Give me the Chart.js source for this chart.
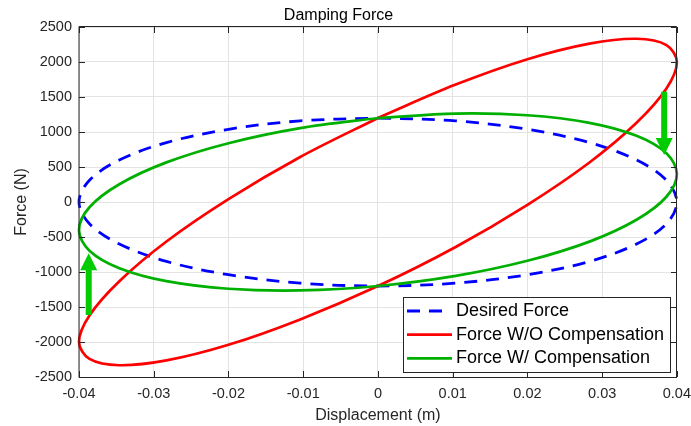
<!DOCTYPE html>
<html>
<head>
<meta charset="utf-8">
<title>Damping Force</title>
<script src="https://cdn.jsdelivr.net/npm/chart.js@4/dist/chart.umd.min.js"></script>
<style>
  html, body { margin: 0; padding: 0; background: #fff; }
</style>
</head>
<body>
<canvas id="forceChart" width="691" height="426"></canvas>
<script>
// one loop of the displacement cycle (m), shared by all three force curves
const displacement = [0, 0.0104, 0.02, 0.0283, 0.0346, 0.0386, 0.04, 0.0386, 0.0346, 0.0283, 0.02, 0.0104,
  0, -0.0104, -0.02, -0.0283, -0.0346, -0.0386, -0.04, -0.0386, -0.0346, -0.0283, -0.02, -0.0104];

// forces (N) at each displacement sample
const desiredForce = [1200, 1159, 1039, 849, 600, 311, 0, -311, -600, -849, -1039, -1159,
  -1200, -1159, -1039, -849, -600, -311, 0, 311, 600, 849, 1039, 1159];
const forceNoComp = [1201, 1677, 2040, 2263, 2332, 2242, 1999, 1620, 1131, 564, -41, -643,
  -1201, -1677, -2040, -2263, -2332, -2242, -1999, -1620, -1131, -564, 41, 643];
const forceComp = [1200, 1263, 1239, 1131, 946, 696, 399, 75, -254, -566, -840, -1056,
  -1200, -1263, -1239, -1131, -946, -696, -399, -75, 254, 566, 840, 1056];

const seriesLabels = ['Desired Force', 'Force W/O Compensation', 'Force W/ Compensation'];

// arrows showing the shift from the uncompensated to the compensated loop
const arrowX = [0.0383, -0.0387];
const arrowStart = [1576, -1614];
const arrowEnd = [671, -733];

const xTickValues = [-0.04, -0.03, -0.02, -0.01, 0, 0.01, 0.02, 0.03, 0.04];
const yTickValues = [-2500, -2000, -1500, -1000, -500, 0, 500, 1000, 1500, 2000, 2500];

const FONT = "'Liberation Sans', Arial, Helvetica, sans-serif";
const AXIS_COLOR = '#262626';

// close each loop by returning to the first sample
function loop(forces) {
  const pts = displacement.map((x, i) => ({ x, y: forces[i] }));
  pts.push({ x: displacement[0], y: forces[0] });
  return pts;
}

const overlay = {
  id: 'overlay',
  afterDatasetsDraw(chart) {
    const { ctx, chartArea: a, scales: { x, y } } = chart;
    ctx.save();

    // green arrows
    ctx.fillStyle = '#00CC00';
    arrowX.forEach((xv, i) => {
      const px = x.getPixelForValue(xv);
      const p0 = y.getPixelForValue(arrowStart[i]);
      const p1 = y.getPixelForValue(arrowEnd[i]);
      const dir = Math.sign(p1 - p0);
      const headLen = 17, headHalf = 8.5, shaftHalf = 3;
      const base = p1 - dir * headLen;
      const s0 = Math.min(p0, base + dir), s1 = Math.max(p0, base + dir);
      ctx.fillRect(px - shaftHalf, s0, shaftHalf * 2, s1 - s0);
      ctx.beginPath();
      ctx.moveTo(px - headHalf, base);
      ctx.lineTo(px + headHalf, base);
      ctx.lineTo(px, p1);
      ctx.closePath();
      ctx.fill();
    });

    // axes box with inward tick marks
    const L = Math.round(a.left), R = Math.round(a.right), T = Math.round(a.top), B = Math.round(a.bottom);
    ctx.strokeStyle = AXIS_COLOR;
    ctx.lineWidth = 1;
    ctx.beginPath();
    ctx.moveTo(L, T - 0.5); ctx.lineTo(L, B + 0.5);
    ctx.moveTo(L, T - 0.5); ctx.lineTo(R - 0.5, T - 0.5);
    ctx.moveTo(R - 0.5, T - 0.5); ctx.lineTo(R - 0.5, B + 0.5);
    ctx.moveTo(L, B + 0.5); ctx.lineTo(R - 0.5, B + 0.5);
    const tick = 6;
    xTickValues.forEach(v => {
      const px = Math.round(x.getPixelForValue(v)) + 0.5;
      ctx.moveTo(px, B); ctx.lineTo(px, B - tick);
      ctx.moveTo(px, T); ctx.lineTo(px, T + tick);
    });
    yTickValues.forEach(v => {
      const py = Math.round(y.getPixelForValue(v)) + 0.5;
      ctx.moveTo(L, py); ctx.lineTo(L + tick, py);
      ctx.moveTo(R, py); ctx.lineTo(R - tick, py);
    });
    ctx.stroke();

    // legend box, lower right inside the axes
    const boxW = 267, boxH = 75;
    const bx = R - 7 - boxW, by = B - 5 - boxH;
    ctx.fillStyle = '#fff';
    ctx.fillRect(bx, by, boxW, boxH);
    ctx.strokeStyle = AXIS_COLOR;
    ctx.strokeRect(bx + 0.5, by + 0.5, boxW, boxH);
    ctx.font = '18px ' + FONT;
    ctx.textBaseline = 'middle';
    ctx.textAlign = 'left';
    chart.data.datasets.forEach((ds, i) => {
      const ry = by + 14 + i * 23.7;
      // dashed sample stops after two whole dashes
      const sampleLen = ds.borderDash ? 35 : 45;
      ctx.strokeStyle = ds.borderColor;
      ctx.lineWidth = ds.borderWidth;
      ctx.setLineDash(ds.borderDash || []);
      ctx.beginPath();
      ctx.moveTo(bx + 4, ry);
      ctx.lineTo(bx + 4 + sampleLen, ry);
      ctx.stroke();
      ctx.setLineDash([]);
      ctx.fillStyle = '#000';
      ctx.fillText(ds.label, bx + 53, ry);
    });
    ctx.restore();
  }
};

new Chart(document.getElementById('forceChart'), {
  type: 'scatter',
  data: {
    datasets: [
      {
        label: seriesLabels[0],
        data: loop(desiredForce),
        borderColor: '#0000FF',
        borderWidth: 2.8,
        borderDash: [13, 9],
        order: 3
      },
      {
        label: seriesLabels[1],
        data: loop(forceNoComp),
        borderColor: '#FF0000',
        borderWidth: 2.7,
        order: 2
      },
      {
        label: seriesLabels[2],
        data: loop(forceComp),
        borderColor: '#00B000',
        borderWidth: 2.7,
        order: 1
      }
    ]
  },
  options: {
    responsive: false,
    animation: false,
    devicePixelRatio: 1,
    events: [],
    layout: { padding: { left: 0, right: 13.9, top: 0, bottom: 0 } },
    datasets: {
      scatter: {
        showLine: true,
        pointRadius: 0,
        tension: 0.34,
        capBezierPoints: false,
        clip: false,
        fill: false
      }
    },
    plugins: {
      legend: { display: false },
      tooltip: { enabled: false },
      title: {
        display: true,
        text: 'Damping Force',
        color: '#000',
        font: { family: FONT, size: 16, weight: 'normal' },
        padding: { top: 5.6, bottom: 2.2 }
      }
    },
    scales: {
      x: {
        type: 'linear',
        min: -0.04,
        max: 0.04,
        afterBuildTicks: axis => { axis.ticks = xTickValues.map(value => ({ value })); },
        afterFit: scale => { scale.height = 49; },
        // invisible tick length keeps the labels clear of the axis without widening the side padding
        grid: { color: '#e3e3e3', lineWidth: 1, drawTicks: true, tickLength: 8, tickColor: 'rgba(0,0,0,0)' },
        border: { display: false },
        ticks: {
          padding: 0,
          maxRotation: 0,
          minRotation: 0,
          autoSkip: false,
          color: AXIS_COLOR,
          font: { family: FONT, size: 14.5 },
          callback: v => String(+Number(v).toFixed(2))
        },
        title: {
          display: true,
          text: 'Displacement (m)',
          color: AXIS_COLOR,
          font: { family: FONT, size: 16 },
          padding: { top: 0, bottom: 0.4 }
        }
      },
      y: {
        type: 'linear',
        min: -2500,
        max: 2500,
        afterBuildTicks: axis => { axis.ticks = yTickValues.map(value => ({ value })); },
        afterFit: scale => { scale.width = 79; },
        grid: { color: '#e3e3e3', lineWidth: 1, drawTicks: false },
        border: { display: false },
        ticks: {
          padding: 7,
          autoSkip: false,
          color: AXIS_COLOR,
          font: { family: FONT, size: 14.5 },
          callback: v => String(v)
        },
        title: {
          display: true,
          text: 'Force (N)',
          color: AXIS_COLOR,
          font: { family: FONT, size: 16 },
          padding: { top: 12, bottom: 0 }
        }
      }
    }
  },
  plugins: [overlay]
});
</script>
</body>
</html>
